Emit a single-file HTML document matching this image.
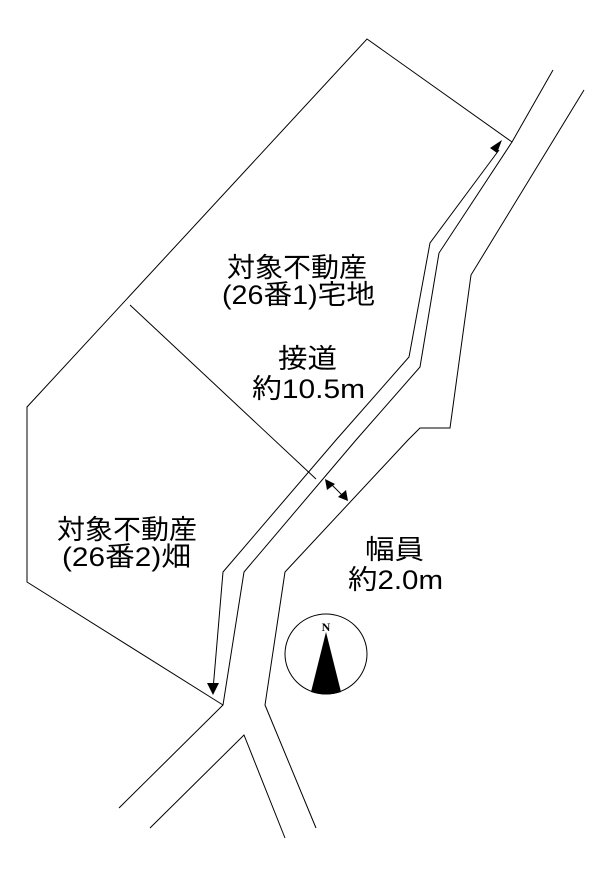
<!DOCTYPE html>
<html><head><meta charset="utf-8"><style>
html,body{margin:0;padding:0;background:#fff;}
svg{display:block;}
text{font-family:"Liberation Sans","Noto Sans CJK JP",sans-serif;font-size:27px;fill:#000;}
</style></head><body>
<svg width="609" height="879" viewBox="0 0 609 879" xmlns="http://www.w3.org/2000/svg">
<g fill="none" stroke="#000" stroke-width="1">
<polyline points="512,142 367,39 27,407 27,582 223,705"/>
<line x1="130" y1="305" x2="316" y2="479"/>
<polyline points="499,150 430,243 409,357 336,440 223,572 213,690"/>
<polyline points="553,70 512,142 439,253 420,367 356,440 244,572 223,705 119,808"/>
<polyline points="584,90 471,275 450,428 420,428 408,440 285,572 265,705 316,828"/>
<polyline points="150,828 244,735 285,838"/>
<line x1="329" y1="482" x2="345" y2="498"/>
<ellipse cx="326" cy="654" rx="41" ry="40"/>
</g>
<polygon points="502,140 490,148 497,153" fill="#000"/>
<polygon points="213,695 207,683 219,683" fill="#000"/>
<polygon points="325,479 327,490 335,484" fill="#000"/>
<polygon points="348,501 338,497 346,490" fill="#000"/>
<path d="M326,632 L341,692 Q326,697 311,692 Z" fill="#000"/>
<text x="326" y="631" text-anchor="middle" style="font-family:'Liberation Serif',serif;font-size:12px;font-weight:bold;">N</text>
<text x="227" y="277" textLength="140" lengthAdjust="spacingAndGlyphs">対象不動産</text>
<text x="222" y="304" textLength="153" lengthAdjust="spacingAndGlyphs">(26番1)宅地</text>
<text x="278" y="368" textLength="59" lengthAdjust="spacingAndGlyphs">接道</text>
<text x="252" y="398" textLength="113" lengthAdjust="spacingAndGlyphs">約10.5m</text>
<text x="57" y="539" textLength="140" lengthAdjust="spacingAndGlyphs">対象不動産</text>
<text x="62" y="566" textLength="129" lengthAdjust="spacingAndGlyphs">(26番2)畑</text>
<text x="365" y="559" textLength="59" lengthAdjust="spacingAndGlyphs">幅員</text>
<text x="348" y="589" textLength="95" lengthAdjust="spacingAndGlyphs">約2.0m</text>
</svg>
</body></html>
